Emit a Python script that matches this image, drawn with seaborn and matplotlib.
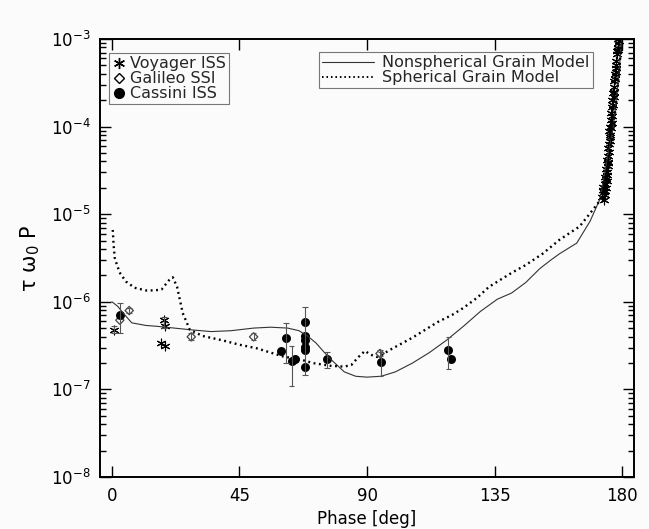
import numpy as np
import pandas as pd
import matplotlib
matplotlib.use("Agg")
import matplotlib.pyplot as plt
from matplotlib.lines import Line2D
import seaborn as sns

# ---------------- data (log10 values) ----------------
nonsph_phase = [0, 2, 4, 7, 12, 16, 22, 28, 35, 42, 50, 56, 62, 66, 69, 72, 75, 78,
                82, 86, 90, 95, 100, 106, 112, 118, 124, 130, 136, 141, 146, 151,
                155, 158, 164, 168.7, 172.3, 174.6, 176.9, 178.6, 180]
nonsph_log = [-6.0, -6.05, -6.13, -6.24, -6.27, -6.28, -6.30, -6.32, -6.34, -6.33,
              -6.30, -6.29, -6.30, -6.33, -6.39, -6.47, -6.58, -6.68, -6.80, -6.85,
              -6.86, -6.85, -6.80, -6.70, -6.58, -6.44, -6.28, -6.11, -5.97, -5.90,
              -5.78, -5.62, -5.52, -5.45, -5.33, -5.08, -4.82, -4.40, -4.0, -3.5, -2.95]

sph_phase = [0.3, 0.6, 1, 2, 3, 5, 8, 12, 15, 17.5, 19, 20.5, 21.5, 23, 25, 27.5,
             32, 39, 45, 51, 57, 61, 65, 71, 77, 82, 84.5, 87, 89.3, 91, 93.5, 96,
             98, 102, 106, 110, 115, 120, 124, 129, 133, 137, 141, 146, 152, 158,
             165, 168.7, 172.3, 175, 177, 178.6, 180]
sph_log = [-5.18, -5.35, -5.50, -5.60, -5.68, -5.77, -5.84, -5.87, -5.87, -5.86,
           -5.80, -5.74, -5.72, -5.83, -6.13, -6.32, -6.39, -6.44, -6.49, -6.53,
           -6.59, -6.63, -6.645, -6.70, -6.73, -6.74, -6.72, -6.63, -6.56, -6.60,
           -6.63, -6.59, -6.55, -6.48, -6.41, -6.33, -6.23, -6.15, -6.07, -5.95,
           -5.83, -5.75, -5.67, -5.58, -5.45, -5.29, -5.14, -4.99, -4.84, -4.45,
           -4.0, -3.5, -2.95]

voy_phase = [0.7, 17.2, 18.3, 18.6, 18.7,
             173.0, 173.3, 173.6, 173.9, 174.2, 174.0, 174.4, 174.7, 174.3, 175.0,
             174.8, 175.2, 175.0, 175.4, 175.6, 175.3, 175.8, 176.0, 176.2, 176.4,
             176.6, 176.9, 177.1, 177.3, 177.6, 177.8, 178.0, 178.3, 178.5, 178.7,
             173.5, 173.8, 174.1, 174.5, 174.9, 175.3, 175.7, 176.1, 176.5, 176.8,
             177.2, 177.5, 177.9, 178.2, 178.6, 174.6, 175.1, 173.2, 174.0, 175.9,
             176.3, 177.0, 177.7, 178.4, 178.9]
voy_log = [-6.32, -6.47, -6.21, -6.28, -6.51,
           -4.80, -4.72, -4.75, -4.65, -4.70, -4.58, -4.60, -4.52, -4.48, -4.45,
           -4.38, -4.33, -4.25, -4.20, -4.12, -4.05, -4.00, -3.92, -3.85, -3.78,
           -3.70, -3.62, -3.55, -3.48, -3.40, -3.33, -3.25, -3.17, -3.10, -3.05,
           -4.84, -4.78, -4.66, -4.55, -4.42, -4.29, -4.16, -4.02, -3.88, -3.75,
           -3.60, -3.46, -3.30, -3.14, -3.00, -4.62, -4.40, -4.69, -4.74, -4.10,
           -3.96, -3.66, -3.38, -3.12, -3.02]

gal_phase = [2.8, 6.1, 28, 50, 94.6]
gal_log = [-6.21, -6.10, -6.40, -6.40, -6.59]

cas_phase = [2.8, 59.6, 61.4, 63.4, 64.6, 68.1, 68.1, 68.1, 68.1, 68.1, 68.1,
             75.8, 94.8, 118.7, 119.5]
cas_log = [-6.15, -6.56, -6.41, -6.68, -6.65, -6.23, -6.39, -6.44, -6.52, -6.55,
           -6.74, -6.65, -6.69, -6.55, -6.65]

# error bars: phase, low, high (log10)
err_phase = [0.7, 18.3, 6.1, 28, 50, 94.6, 2.8, 61.4, 63.4, 68.1, 75.8, 94.8, 118.7]
err_lo = [-6.36, -6.30, -6.13, -6.44, -6.44, -6.62, -6.36, -6.70, -6.96, -6.84,
          -6.76, -6.85, -6.77]
err_hi = [-6.28, -6.17, -6.07, -6.36, -6.36, -6.55, -6.01, -6.24, -6.51, -6.06,
          -6.57, -6.57, -6.405]

x_ticks = [0, 45, 90, 135, 180]

# ---------------- plotting ----------------
sns.set_theme(style="ticks")
plt.rcParams["font.family"] = ["DejaVu Sans"]
plt.rcParams["mathtext.default"] = "regular"

bg = "#fbfbfb"
fig = plt.figure(figsize=(6.49, 5.29), dpi=100, facecolor=bg)
ax = fig.add_axes([100 / 649, 1 - 477 / 529, 534 / 649, 438 / 529])
ax.set_facecolor(bg)
ax.set_yscale("log")

df_ns = pd.DataFrame({"phase": nonsph_phase, "val": 10 ** np.array(nonsph_log)})
df_sp = pd.DataFrame({"phase": sph_phase, "val": 10 ** np.array(sph_log)})
sns.lineplot(data=df_ns, x="phase", y="val", ax=ax, color="#333333", lw=0.8,
             sort=False, estimator=None)
sns.lineplot(data=df_sp, x="phase", y="val", ax=ax, color="black", lw=1.7,
             linestyle=(0, (0.8, 1.5)), sort=False, estimator=None)

# error bars
e_ph = np.array(err_phase)
e_lo = 10 ** np.array(err_lo)
e_hi = 10 ** np.array(err_hi)
ax.vlines(e_ph, e_lo, e_hi, color="#555555", lw=0.8)
ax.hlines(e_lo, e_ph - 1.0, e_ph + 1.0, color="#555555", lw=0.8)
ax.hlines(e_hi, e_ph - 1.0, e_ph + 1.0, color="#555555", lw=0.8)

df_v = pd.DataFrame({"phase": voy_phase, "val": 10 ** np.array(voy_log)})
df_g = pd.DataFrame({"phase": gal_phase, "val": 10 ** np.array(gal_log)})
df_c = pd.DataFrame({"phase": cas_phase, "val": 10 ** np.array(cas_log)})
sns.scatterplot(data=df_v, x="phase", y="val", ax=ax, marker=(6, 2, 0), s=40,
                color="black", linewidth=0.8)
sns.scatterplot(data=df_g, x="phase", y="val", ax=ax, marker="D", s=18,
                facecolor="none", edgecolor="#444444", linewidth=0.9)
sns.scatterplot(data=df_c, x="phase", y="val", ax=ax, marker="o", s=42,
                color="black", edgecolor="black", linewidth=0)

ax.set_xlim(-4.2, 184.2)
ax.set_ylim(1e-8, 1e-3)
ax.set_xticks(x_ticks)
ax.set_xticklabels([str(t) for t in x_ticks])
ax.xaxis.set_minor_locator(matplotlib.ticker.NullLocator())
ax.tick_params(which="both", direction="in", top=True, right=True, colors="black",
               labelsize=12, width=1.0)
ax.tick_params(which="major", length=8, pad=7)
ax.tick_params(which="minor", length=4)
for s in ax.spines.values():
    s.set_linewidth(1.4)
    s.set_color("black")

ax.set_xlabel("Phase [deg]", fontsize=12, labelpad=4, color="black")
ax.set_ylabel(r"$\tau\ \omega_0\ P$", fontsize=15, labelpad=6, color="black")

# legends
h1 = [Line2D([], [], ls="none", marker=(6, 2, 0), ms=8, color="black", mew=1.0),
      Line2D([], [], ls="none", marker="D", ms=5.5, mfc="none", mec="black", mew=1.0),
      Line2D([], [], ls="none", marker="o", ms=7, color="black")]
leg1 = ax.legend(h1, ["Voyager ISS", "Galileo SSI", "Cassini ISS"], loc="upper left",
                 bbox_to_anchor=(9 / 534, 1 - 14 / 438), fontsize=11.5, fancybox=False,
                 framealpha=1, facecolor=bg, edgecolor="#777777", handlelength=0.8,
                 handletextpad=0.3, labelspacing=0.0, borderpad=0.2,
                 borderaxespad=0)
leg1.get_frame().set_linewidth(0.8)
ax.add_artist(leg1)

h2 = [Line2D([], [], color="#333333", lw=0.8),
      Line2D([], [], color="black", lw=1.4, ls=(0, (0.8, 1.5)))]
leg2 = ax.legend(h2, ["Nonspherical Grain Model", "Spherical Grain Model"],
                 loc="upper right", bbox_to_anchor=(1 - 41 / 534, 1 - 13 / 438),
                 fontsize=11.5, fancybox=False, framealpha=1, facecolor=bg,
                 edgecolor="#777777", handlelength=3.3, handletextpad=0.5,
                 labelspacing=0.0, borderpad=0.2, borderaxespad=0)
leg2.get_frame().set_linewidth(0.8)

fig.savefig("out.png", dpi=100, facecolor=bg)
